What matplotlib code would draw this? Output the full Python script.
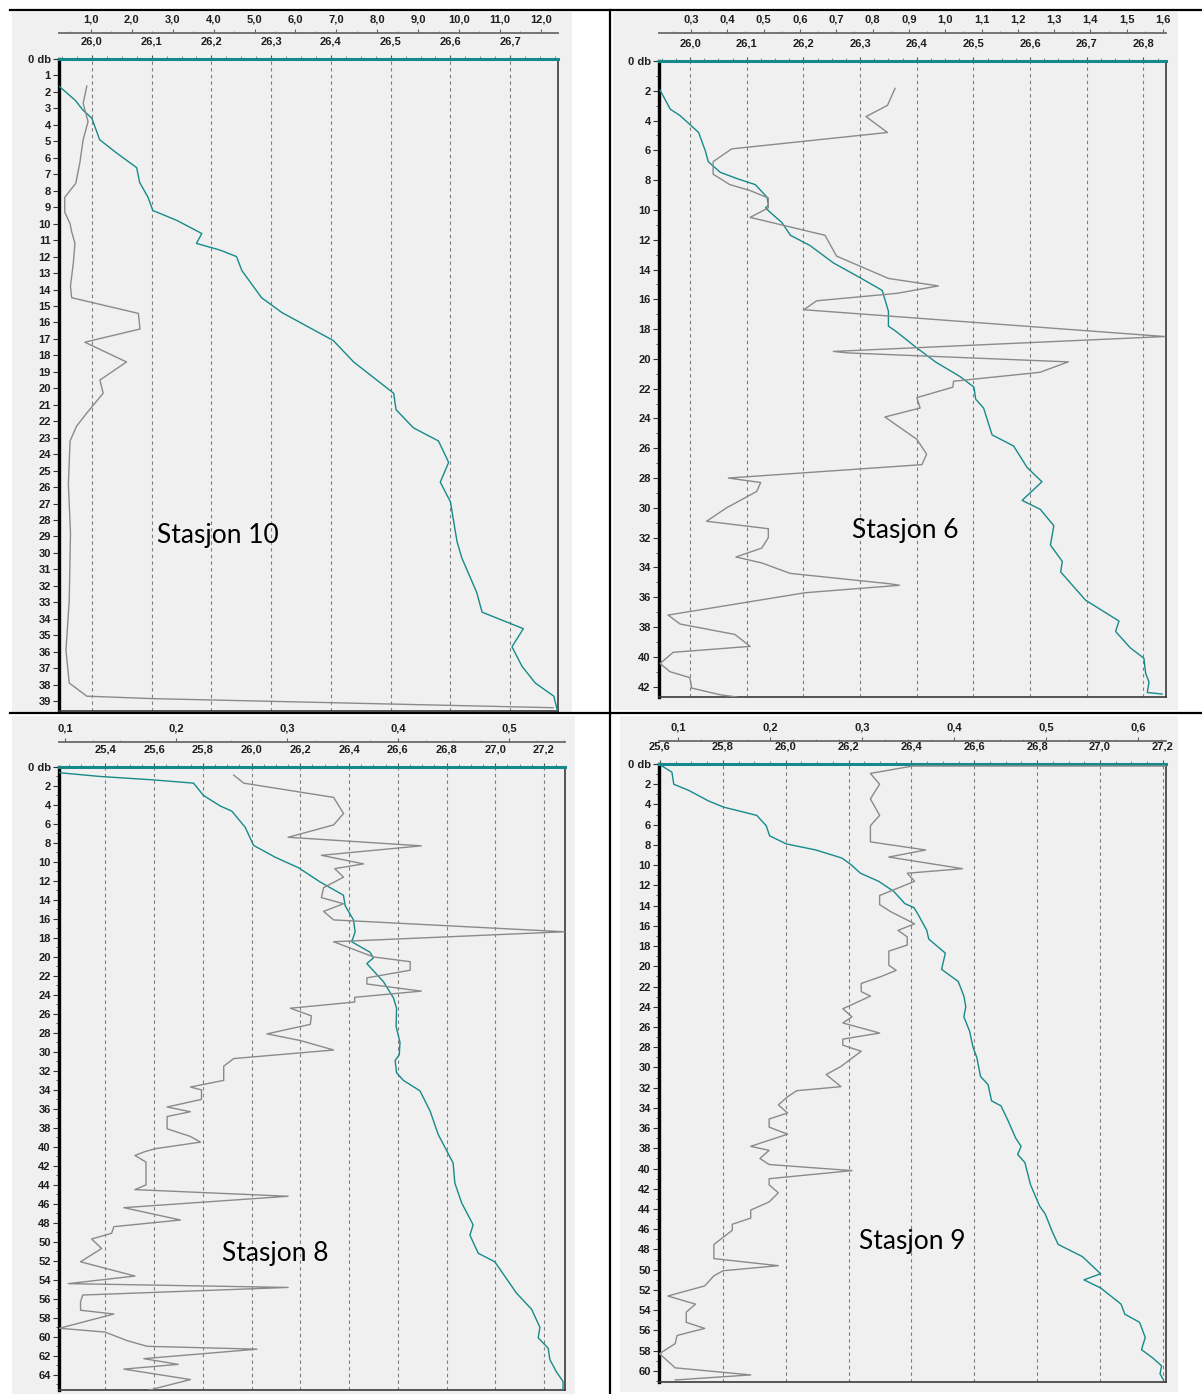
import matplotlib
matplotlib.use('Agg')
import matplotlib.pyplot as plt
from matplotlib.patches import Rectangle
from matplotlib.lines import Line2D
from matplotlib.ticker import MultipleLocator

# ---- Stasjon 10 ----
s10_sig_db = [1.65, 2.5, 3.1, 3.6, 4.9, 5.7, 6.6, 7.5, 8.4, 9.2, 9.8, 10.6, 11.2, 11.6, 12.0, 12.85, 14.5,
              15.4, 17.1, 18.4, 20.3, 21.3, 22.4, 23.2, 24.5, 25.7, 26.9, 29.3, 30.3, 32.4, 33.6, 34.6,
              35.7, 36.9, 37.9, 38.7, 39.6]
s10_sig = [25.945, 25.972, 25.985, 26.000, 26.013, 26.041, 26.075, 26.080, 26.094, 26.102, 26.142, 26.184,
           26.175, 26.214, 26.242, 26.251, 26.284, 26.318, 26.404, 26.438, 26.505, 26.509, 26.538, 26.580,
           26.597, 26.583, 26.600, 26.611, 26.619, 26.644, 26.653, 26.722, 26.703, 26.720, 26.742, 26.773,
           26.779]
s10_gray_db = [1.64, 2.7, 3.8, 4.9, 6.3, 7.55, 8.4, 9.3, 10.0, 10.5, 11.2, 12.4, 13.8, 14.5, 15.45, 16.4,
               17.2, 18.4, 19.5, 20.3, 21.5, 22.3, 23.2, 25.8, 28.8, 32.9, 35.9, 37.9, 38.7, 38.85, 39.4]
s10_gray = [0.90, 0.81, 0.93, 0.81, 0.73, 0.63, 0.36, 0.36, 0.49, 0.53, 0.61, 0.57, 0.50, 0.53, 2.16, 2.20,
            0.85, 1.87, 1.22, 1.30, 0.90, 0.65, 0.49, 0.45, 0.50, 0.47, 0.39, 0.47, 0.90, 2.52, 12.3]

# ---- Stasjon 6 ----
s6_sig_db = [1.97, 3.24, 3.66, 4.8, 6.06, 6.76, 7.47, 7.9, 8.3, 9.16, 9.7, 9.86, 10.15, 10.85, 11.7, 12.4,
             13.56, 14.55, 15.4, 16.8, 17.8, 18.2, 19.2, 20.2, 21.2, 21.9, 22.7, 23.3, 25.1, 25.85, 27.3,
             28.25, 29.5, 30.1, 31.2, 32.5, 33.6, 34.3, 36.2, 37.6, 38.3, 39.4, 40.1, 41.1, 41.7, 42.4, 42.5]
s6_sig = [25.947, 25.965, 25.982, 26.015, 26.027, 26.032, 26.053, 26.083, 26.115, 26.136, 26.138, 26.133,
          26.141, 26.162, 26.177, 26.212, 26.253, 26.300, 26.339, 26.350, 26.350, 26.365, 26.398, 26.433,
          26.477, 26.501, 26.504, 26.518, 26.533, 26.571, 26.595, 26.621, 26.586, 26.618, 26.642, 26.636,
          26.657, 26.654, 26.698, 26.757, 26.751, 26.777, 26.801, 26.804, 26.810, 26.807, 26.833]
s6_gray_db = [1.84, 2.98, 3.73, 4.8, 5.9, 6.76, 7.6, 8.3, 8.7, 9.2, 9.86, 10.5, 11.7, 13.1, 14.6, 15.1,
              15.6, 16.1, 16.7, 18.5, 19.5, 19.6, 20.2, 20.9, 21.5, 21.9, 22.6, 23.3, 23.9, 25.4, 26.4,
              27.1, 28.0, 28.3, 28.9, 30.0, 30.9, 31.4, 32.0, 32.7, 33.3, 33.7, 34.4, 35.1, 35.2, 35.7,
              37.2, 37.8, 38.5, 39.3, 39.7, 40.45, 41.0, 41.4, 42.1, 42.55, 42.7]
s6_gray = [0.862, 0.841, 0.782, 0.841, 0.412, 0.361, 0.361, 0.407, 0.463, 0.513, 0.513, 0.463, 0.669,
           0.701, 0.844, 0.981, 0.867, 0.646, 0.611, 1.605, 0.692, 0.733, 1.339, 1.261, 1.023, 1.021,
           0.922, 0.931, 0.834, 0.922, 0.949, 0.936, 0.403, 0.492, 0.481, 0.398, 0.343, 0.513, 0.513,
           0.495, 0.424, 0.495, 0.573, 0.848, 0.874, 0.614, 0.237, 0.270, 0.421, 0.463, 0.251, 0.215,
           0.242, 0.297, 0.302, 0.380, 0.426]

# ---- Stasjon 8 ----
s8_sig_db = [0.6, 1.0, 1.36, 1.7, 3.0, 4.1, 4.65, 6.35, 8.25, 9.5, 10.6, 12.1, 13.5, 14.6, 16.1, 17.35,
             18.4, 19.5, 20.1, 20.7, 22.6, 24.3, 25.4, 27.3, 29.0, 30.3, 30.9, 32.2, 33.0, 34.1, 36.2,
             38.7, 41.7, 43.8, 45.9, 48.2, 49.3, 51.2, 52.1, 55.4, 57.1, 59.0, 60.1, 61.2, 62.4, 63.7,
             64.7, 65.6]
s8_sig = [25.211, 25.380, 25.598, 25.762, 25.803, 25.871, 25.919, 25.974, 26.008, 26.097, 26.192, 26.281,
          26.377, 26.384, 26.418, 26.425, 26.411, 26.486, 26.500, 26.473, 26.541, 26.582, 26.595, 26.593,
          26.609, 26.606, 26.589, 26.595, 26.623, 26.691, 26.732, 26.766, 26.827, 26.834, 26.862, 26.909,
          26.896, 26.930, 26.998, 27.087, 27.149, 27.183, 27.176, 27.217, 27.224, 27.251, 27.278, 27.278]
s8_gray_db = [0.85, 1.7, 3.2, 4.9, 6.1, 7.4, 8.3, 9.3, 10.2, 10.7, 11.6, 12.7, 13.75, 14.4, 15.2, 16.1,
              17.35, 18.4, 20.0, 20.5, 21.4, 22.2, 22.85, 23.6, 24.25, 24.75, 25.4, 26.2, 27.1, 28.1,
              28.8, 29.8, 30.7, 31.5, 33.0, 33.7, 34.0, 35.0, 35.8, 36.3, 36.8, 38.1, 38.9, 39.5, 40.2,
              40.5, 40.9, 41.6, 44.0, 44.5, 45.2, 46.4, 47.7, 48.4, 49.1, 49.7, 50.7, 52.1, 53.6, 54.4,
              54.8, 55.6, 56.3, 57.2, 57.6, 59.1, 59.5, 60.4, 61.0, 61.3, 62.3, 62.9, 63.4, 64.5, 65.6]
s8_gray = [0.252, 0.261, 0.342, 0.351, 0.342, 0.301, 0.421, 0.331, 0.369, 0.343, 0.351, 0.333, 0.331,
           0.351, 0.333, 0.342, 0.550, 0.342, 0.378, 0.411, 0.411, 0.372, 0.372, 0.421, 0.361, 0.361,
           0.303, 0.322, 0.321, 0.282, 0.312, 0.342, 0.252, 0.243, 0.243, 0.213, 0.223, 0.223, 0.192,
           0.213, 0.192, 0.192, 0.213, 0.222, 0.181, 0.172, 0.163, 0.173, 0.173, 0.163, 0.301, 0.153,
           0.204, 0.144, 0.142, 0.124, 0.133, 0.114, 0.163, 0.103, 0.301, 0.116, 0.114, 0.114, 0.144,
           0.095, 0.136, 0.156, 0.174, 0.273, 0.171, 0.202, 0.153, 0.213, 0.176]

# ---- Stasjon 9 ----
s9_sig_db = [0.0, 0.8, 2.0, 2.6, 3.66, 4.26, 5.08, 6.1, 7.1, 7.9, 8.5, 9.3, 9.95, 10.8, 11.6, 12.6, 13.8,
             14.2, 14.8, 16.45, 17.3, 18.7, 20.3, 21.5, 22.95, 24.0, 25.0, 26.4, 28.0, 29.0, 30.9, 31.7,
             33.3, 33.8, 35.3, 37.0, 37.8, 38.6, 39.4, 41.6, 43.7, 44.5, 46.3, 47.5, 48.7, 50.4, 51.0,
             51.8, 53.4, 54.4, 55.2, 56.7, 57.9, 58.7, 59.5, 60.3, 60.9]
s9_sig = [25.596, 25.638, 25.644, 25.691, 25.755, 25.802, 25.908, 25.938, 25.949, 26.002, 26.096, 26.179,
          26.208, 26.238, 26.296, 26.344, 26.379, 26.408, 26.420, 26.449, 26.455, 26.508, 26.496, 26.549,
          26.567, 26.573, 26.567, 26.585, 26.596, 26.608, 26.620, 26.644, 26.655, 26.685, 26.708, 26.732,
          26.749, 26.738, 26.761, 26.779, 26.808, 26.826, 26.849, 26.867, 26.944, 27.002, 26.949, 27.002,
          27.067, 27.079, 27.126, 27.144, 27.132, 27.167, 27.196, 27.191, 27.202]
s9_gray_db = [0.2, 0.2, 0.93, 2.0, 3.45, 5.08, 6.1, 7.7, 8.5, 9.2, 10.35, 10.8, 11.6, 13.0, 13.9, 14.6,
              15.8, 16.45, 17.1, 17.9, 18.5, 19.9, 20.4, 21.0, 21.7, 22.5, 22.95, 24.2, 25.0, 25.6, 26.6,
              27.2, 27.8, 28.4, 29.9, 30.7, 31.9, 32.3, 32.9, 33.7, 34.5, 35.1, 35.9, 36.6, 37.8, 38.2,
              39.0, 39.6, 40.2, 41.0, 41.6, 42.4, 43.3, 44.1, 44.9, 45.5, 46.1, 47.5, 48.9, 49.6, 50.1,
              50.6, 51.6, 52.6, 53.4, 54.2, 55.2, 55.8, 56.5, 57.3, 58.3, 59.7, 60.4, 60.9]
s9_gray = [0.630, 0.355, 0.309, 0.319, 0.309, 0.319, 0.309, 0.309, 0.369, 0.329, 0.409, 0.349, 0.357,
           0.319, 0.319, 0.331, 0.357, 0.339, 0.349, 0.349, 0.329, 0.329, 0.337, 0.321, 0.299, 0.299,
           0.309, 0.279, 0.289, 0.279, 0.319, 0.279, 0.279, 0.299, 0.277, 0.261, 0.277, 0.229, 0.219,
           0.209, 0.219, 0.199, 0.199, 0.219, 0.179, 0.199, 0.189, 0.199, 0.289, 0.199, 0.199, 0.209,
           0.199, 0.179, 0.179, 0.159, 0.159, 0.139, 0.139, 0.209, 0.149, 0.139, 0.129, 0.089, 0.119,
           0.109, 0.109, 0.129, 0.099, 0.097, 0.080, 0.097, 0.179, 0.097]

# tick values / labels
s10_dens_ticks = [26.0, 26.1, 26.2, 26.3, 26.4, 26.5, 26.6, 26.7]
s10_dens_labels = ['26,0', '26,1', '26,2', '26,3', '26,4', '26,5', '26,6', '26,7']
s10_up_ticks = [1, 2, 3, 4, 5, 6, 7, 8, 9, 10, 11, 12]
s10_up_labels = ['1,0', '2,0', '3,0', '4,0', '5,0', '6,0', '7,0', '8,0', '9,0', '10,0', '11,0', '12,0']

s6_dens_ticks = [26.0, 26.1, 26.2, 26.3, 26.4, 26.5, 26.6, 26.7, 26.8]
s6_dens_labels = ['26,0', '26,1', '26,2', '26,3', '26,4', '26,5', '26,6', '26,7', '26,8']
s6_up_ticks = [0.3, 0.4, 0.5, 0.6, 0.7, 0.8, 0.9, 1.0, 1.1, 1.2, 1.3, 1.4, 1.5, 1.6]
s6_up_labels = ['0,3', '0,4', '0,5', '0,6', '0,7', '0,8', '0,9', '1,0', '1,1', '1,2', '1,3', '1,4',
                '1,5', '1,6']

s8_dens_ticks = [25.4, 25.6, 25.8, 26.0, 26.2, 26.4, 26.6, 26.8, 27.0, 27.2]
s8_dens_labels = ['25,4', '25,6', '25,8', '26,0', '26,2', '26,4', '26,6', '26,8', '27,0', '27,2']
s8_up_ticks = [0.1, 0.2, 0.3, 0.4, 0.5]
s8_up_labels = ['0,1', '0,2', '0,3', '0,4', '0,5']

s9_dens_ticks = [25.6, 25.8, 26.0, 26.2, 26.4, 26.6, 26.8, 27.0, 27.2]
s9_dens_labels = ['25,6', '25,8', '26,0', '26,2', '26,4', '26,6', '26,8', '27,0', '27,2']
s9_up_ticks = [0.1, 0.2, 0.3, 0.4, 0.5, 0.6]
s9_up_labels = ['0,1', '0,2', '0,3', '0,4', '0,5', '0,6']

W, H = 1202, 1394
TEAL = '#168a8a'
GRAY = '#8a8a8a'
TXT = '#1e1e1e'
FONT = 'Liberation Sans'

fig = plt.figure(figsize=(W / 100, H / 100), dpi=100)
fig.patch.set_facecolor('white')


def fig_rect(l, t, r, b):
    return [l / W, 1 - b / H, (r - l) / W, (b - t) / H]


def draw_panel(box, bg, dens_lim, dens_ticks, dens_labels, dens_minor,
               up_lim, up_ticks, up_labels, up_minor, depth_max, y_step,
               sig_db, sig, gray_db, gray, name, name_xy, up_gap):
    l, t, r, b = bg
    fig.add_artist(Rectangle((l / W, 1 - b / H), (r - l) / W, (b - t) / H,
                             transform=fig.transFigure, facecolor='#f0f0f0',
                             edgecolor='none', zorder=0))
    ax = fig.add_axes(fig_rect(*box))
    ax.set_facecolor('#f0f0f0')
    ax2 = ax.twiny()

    # density (lower row of labels, sits on the plot's top edge)
    ax.plot(sig, sig_db, color=TEAL, lw=1.0, zorder=3)
    ax.set_xlim(dens_lim)
    ax.set_ylim(depth_max, 0)
    ax.set_xticks(dens_ticks)
    ax.set_xticklabels(dens_labels)
    ax.xaxis.set_minor_locator(MultipleLocator(dens_minor))
    ax.tick_params(axis='x', which='both', top=True, labeltop=True, bottom=False, labelbottom=False)
    ax.tick_params(axis='x', which='major', direction='out', length=3, width=0.8,
                   color='#555555', pad=6, labelsize=8, labelcolor=TXT)
    ax.tick_params(axis='x', which='minor', direction='out', length=2, width=0.6,
                   color='#777777')
    ax.grid(axis='x', which='major', color='#7c7c7c', linestyle=(0, (3, 3)), lw=0.8)

    yt = list(range(0, int(depth_max) + 1, y_step))
    ax.set_yticks(yt)
    ax.set_yticklabels(['0 db'] + [str(v) for v in yt[1:]])
    if y_step > 1:
        ax.yaxis.set_minor_locator(MultipleLocator(1))
    ax.tick_params(axis='y', which='major', direction='out', length=4, width=0.8,
                   color='#333333', pad=2, labelsize=8, labelcolor=TXT)
    ax.tick_params(axis='y', which='minor', direction='out', length=2, width=0.6,
                   color='#333333')
    for lab in ax.get_xticklabels() + ax.get_yticklabels():
        lab.set_family(FONT)
        lab.set_fontweight('bold')

    ax.spines['left'].set_linewidth(2.4)
    ax.spines['left'].set_color('black')
    ax.spines['top'].set_linewidth(2.2)
    ax.spines['top'].set_color(TEAL)
    for s in ('right', 'bottom'):
        ax.spines[s].set_linewidth(1.2)
        ax.spines[s].set_color('#3a3a3a')

    # second parameter (upper row of labels, on its own axis line)
    ax2.plot(gray, gray_db, color=GRAY, lw=1.0, zorder=2)
    ax2.set_xlim(up_lim)
    ax2.set_ylim(depth_max, 0)
    ax2.set_xticks(up_ticks)
    ax2.set_xticklabels(up_labels)
    ax2.xaxis.set_minor_locator(MultipleLocator(up_minor))
    ax2.spines['top'].set_position(('outward', up_gap * 0.72))
    ax2.spines['top'].set_color('#6a6a6a')
    ax2.spines['top'].set_linewidth(1.3)
    for s in ('left', 'right', 'bottom'):
        ax2.spines[s].set_visible(False)
    ax2.tick_params(axis='x', which='major', direction='out', length=3, width=0.8,
                    color='#666666', pad=3, labelsize=8, labelcolor=TXT)
    ax2.tick_params(axis='x', which='minor', direction='out', length=1.5, width=0.6,
                    color='#888888')
    for lab in ax2.get_xticklabels():
        lab.set_family(FONT)
        lab.set_fontweight('bold')

    fig.text(name_xy[0] / W, 1 - name_xy[1] / H, name, ha='center', va='center',
             fontsize=19, family='Lato', color='black')


draw_panel((59, 59, 558, 711), (12, 12, 572, 712), (25.945, 26.78), s10_dens_ticks, s10_dens_labels,
           0.025, (0.22, 12.42), s10_up_ticks, s10_up_labels, 0.5, 39.6, 1,
           s10_sig_db, s10_sig, s10_gray_db, s10_gray, 'Stasjon 10', (218, 535), 26)
draw_panel((659, 61, 1166, 697), (613, 12, 1178, 710), (25.945, 26.84), s6_dens_ticks, s6_dens_labels,
           0.025, (0.212, 1.608), s6_up_ticks, s6_up_labels, 0.05, 42.7, 2,
           s6_sig_db, s6_sig, s6_gray_db, s6_gray, 'Stasjon 6', (905, 531), 28)
draw_panel((59, 767, 565, 1390), (12, 716, 575, 1394), (25.21, 27.286), s8_dens_ticks, s8_dens_labels,
           0.05, (0.0946, 0.5505), s8_up_ticks, s8_up_labels, 0.025, 65.6, 2,
           s8_sig_db, s8_sig, s8_gray_db, s8_gray, 'Stasjon 8', (275, 1253), 25)
draw_panel((659, 764, 1166, 1382), (620, 716, 1178, 1392), (25.597, 27.21), s9_dens_ticks, s9_dens_labels,
           0.05, (0.0794, 0.630), s9_up_ticks, s9_up_labels, 0.025, 61.1, 2,
           s9_sig_db, s9_sig, s9_gray_db, s9_gray, 'Stasjon 9', (912, 1242), 23)

# table borders
for x1, y1, x2, y2 in [(10, 10, 1202, 10), (10, 713, 1202, 713), (610, 10, 610, 1394)]:
    fig.add_artist(Line2D([x1 / W, x2 / W], [1 - y1 / H, 1 - y2 / H], color='black', lw=1.6,
                          transform=fig.transFigure, zorder=10))

fig.savefig('out.png', dpi=100, facecolor='white')
